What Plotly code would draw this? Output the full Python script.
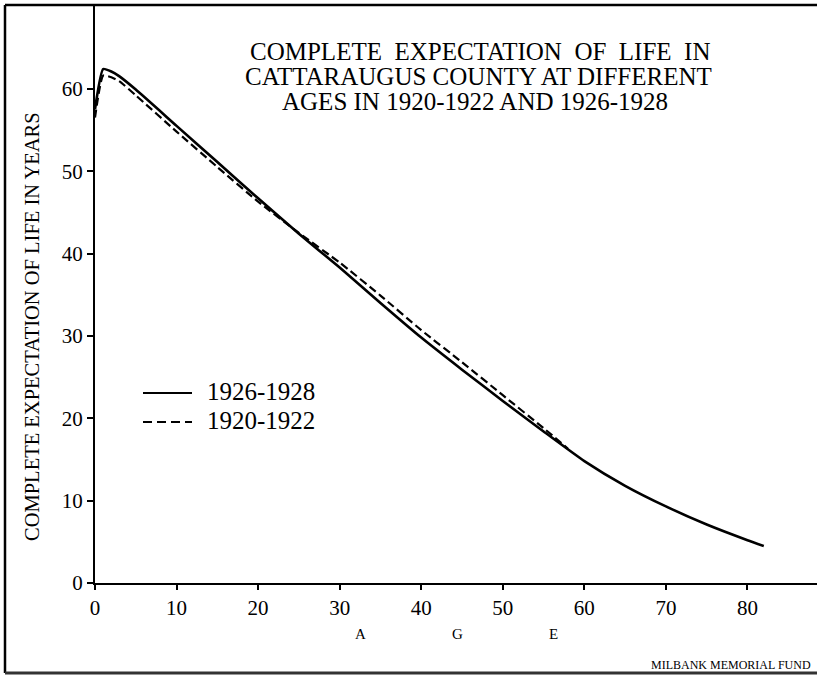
import plotly.graph_objects as go

# Data
ages_1926 = [0, 1, 2, 3, 5, 10, 15, 20, 25, 30, 35, 40, 45, 50, 55, 60, 65, 70, 75, 80, 82]
life_1926 = [57.5, 62.4, 62.1, 61.5, 59.9, 55.5, 51.1, 46.7, 42.4, 38.3, 34.0, 29.8, 25.9,
             22.1, 18.4, 14.8, 11.8, 9.3, 7.1, 5.2, 4.5]

ages_1920 = [0, 1, 2, 3, 5, 10, 15, 20, 25, 30, 35, 40, 45, 50, 55, 58]
life_1920 = [56.5, 61.6, 61.4, 60.9, 59.2, 54.8, 50.5, 46.3, 42.5, 38.9, 34.9, 30.7, 26.8,
             22.8, 18.8, 16.3]

x_ticks = [0, 10, 20, 30, 40, 50, 60, 70, 80]
y_ticks = [0, 10, 20, 30, 40, 50, 60]

title_lines = ["COMPLETE  EXPECTATION  OF  LIFE  IN",
               "CATTARAUGUS COUNTY AT DIFFERENT",
               "AGES IN 1920-1922 AND 1926-1928"]
y_title = "COMPLETE EXPECTATION OF LIFE IN YEARS"
legend_labels = ["1926-1928", "1920-1922"]

FONT = "Liberation Serif"
W, H = 817, 675
L, R, T, B = 95, 0, 5, 92
pw, ph = W - L - R, H - T - B


def px(x):
    return (x - L) / pw


def py(y):
    return (H - B - y) / ph


fig = go.Figure()
fig.add_trace(go.Scatter(x=ages_1926, y=life_1926, mode="lines", name=legend_labels[0],
                         line=dict(color="black", width=2.6, shape="spline", smoothing=0.5),
                         showlegend=False))
fig.add_trace(go.Scatter(x=ages_1920, y=life_1920, mode="lines", name=legend_labels[1],
                         line=dict(color="black", width=2.2, dash="8px,4px", shape="spline",
                                   smoothing=0.5),
                         showlegend=False))

annotations = []
for i, (txt, cx, cy) in enumerate(zip(title_lines, [480, 478, 475], [51, 76, 101])):
    annotations.append(dict(text=txt, x=px(cx), y=py(cy), xref="paper", yref="paper",
                            xanchor="center", yanchor="middle", showarrow=False,
                            font=dict(family=FONT, size=25, color="black")))

annotations.append(dict(text=y_title, x=px(32), y=py(327), xref="paper", yref="paper",
                        xanchor="center", yanchor="middle", showarrow=False, textangle=-90,
                        font=dict(family=FONT, size=20.5, color="black")))

for letter, cx in zip(["A", "G", "E"], [360, 457, 553]):
    annotations.append(dict(text=letter, x=px(cx), y=py(634), xref="paper", yref="paper",
                            xanchor="center", yanchor="middle", showarrow=False,
                            font=dict(family=FONT, size=15, color="black")))

annotations.append(dict(text="MILBANK MEMORIAL FUND", x=px(813), y=py(665), xref="paper",
                        yref="paper", xanchor="right", yanchor="middle", showarrow=False,
                        font=dict(family=FONT, size=12, color="black")))

# manual legend
for lab, cy in zip(legend_labels, [392, 420]):
    annotations.append(dict(text=lab, x=px(205), y=py(cy), xref="paper", yref="paper",
                            xanchor="left", yanchor="middle", showarrow=False,
                            font=dict(family=FONT, size=25, color="black")))

shapes = [
    dict(type="line", xref="paper", yref="paper", x0=px(143), x1=px(192), y0=py(393), y1=py(393),
         line=dict(color="black", width=2.2)),
    dict(type="line", xref="paper", yref="paper", x0=px(143), x1=px(192), y0=py(422), y1=py(422),
         line=dict(color="black", width=2.2, dash="9px,5px")),
    # outer frame
    dict(type="line", xref="paper", yref="paper", x0=px(5), x1=px(817), y0=py(5), y1=py(5),
         line=dict(color="black", width=2.5)),
    dict(type="line", xref="paper", yref="paper", x0=px(5), x1=px(5), y0=py(5), y1=py(673),
         line=dict(color="black", width=2.5)),
    dict(type="line", xref="paper", yref="paper", x0=px(5), x1=px(817), y0=py(673), y1=py(673),
         line=dict(color="#333", width=3)),
]

fig.update_layout(
    width=W, height=H,
    margin=dict(l=L, r=R, t=T, b=B),
    paper_bgcolor="white", plot_bgcolor="white",
    showlegend=False,
    annotations=annotations,
    shapes=shapes,
    xaxis=dict(range=[0, pw / 8.156], tickvals=x_ticks, ticktext=[str(v) for v in x_ticks],
               showgrid=False, zeroline=False, showline=True, linecolor="black", linewidth=2,
               ticks="outside", ticklen=5, tickwidth=1.5, tickcolor="black",
               tickfont=dict(family=FONT, size=21, color="black"), fixedrange=True),
    yaxis=dict(range=[0, ph / 8.237], tickvals=y_ticks, ticktext=[str(v) for v in y_ticks],
               showgrid=False, zeroline=False, showline=True, linecolor="black", linewidth=2,
               ticks="outside", ticklen=6, tickwidth=1.5, tickcolor="black",
               tickfont=dict(family=FONT, size=21, color="black"), fixedrange=True),
)

fig.write_html("out.html", config={"displayModeBar": False},
               post_script="document.body.style.margin='0';document.body.style.overflow='hidden';")
